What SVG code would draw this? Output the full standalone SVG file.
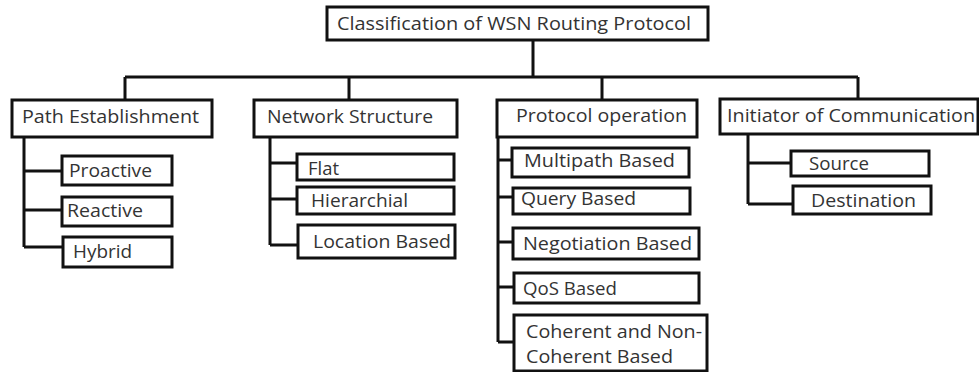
<svg xmlns="http://www.w3.org/2000/svg" width="979" height="372" viewBox="0 0 979 372">
<style>
rect{fill:#fff;stroke:#111;stroke-width:3}
text{font-family:"Open Sans","Noto Sans",sans-serif;fill:#333;font-size:19px}
text.s{font-size:18.5px}
#connectors path{fill:none;stroke:#111;stroke-width:3}
</style>
<rect x="0" y="0" width="979" height="372" style="fill:#fff;stroke:none"/>
<g id="connectors">
<path d="M533 40V77M125 77H858M125 77V100M349 77V100M602 77V100M858 77V100"/>
<path d="M24 137V247M24 171H62M24 210H62M24 247H63"/>
<path d="M270 137V245M270 163H297M270 199H297M270 245H298"/>
<path d="M498 137V342M498 160H512M498 197H513M498 242H513M498 287H514M498 342H514"/>
<path d="M748 133V204M748 163H791M748 204H793"/>
</g>
<g id="root"><rect x="327" y="7" width="381" height="33"/><text x="337" y="30" textLength="354" lengthAdjust="spacingAndGlyphs">Classification of WSN Routing Protocol</text></g>
<g id="path-establishment"><rect x="12" y="100" width="200" height="37"/><text x="22" y="123" textLength="177" lengthAdjust="spacingAndGlyphs">Path Establishment</text></g>
<g id="network-structure"><rect x="254" y="100" width="203" height="37"/><text x="267" y="123" textLength="166" lengthAdjust="spacingAndGlyphs">Network Structure</text></g>
<g id="protocol-operation"><rect x="497" y="100" width="200" height="37"/><text x="516" y="122" textLength="171" lengthAdjust="spacingAndGlyphs">Protocol operation</text></g>
<g id="initiator"><rect x="720" y="99" width="258" height="35"/><text x="727" y="122" textLength="248" lengthAdjust="spacingAndGlyphs">Initiator of Communication</text></g>
<g id="proactive"><rect x="62" y="156" width="110" height="29"/><text class="s" x="69" y="177" textLength="83" lengthAdjust="spacingAndGlyphs">Proactive</text></g>
<g id="reactive"><rect x="62" y="197" width="110" height="29"/><text class="s" x="67" y="217" textLength="76" lengthAdjust="spacingAndGlyphs">Reactive</text></g>
<g id="hybrid"><rect x="63" y="237" width="109" height="30"/><text class="s" x="73" y="258" textLength="59" lengthAdjust="spacingAndGlyphs">Hybrid</text></g>
<g id="flat"><rect x="297" y="154" width="157" height="26"/><text class="s" x="308" y="175" textLength="31" lengthAdjust="spacingAndGlyphs">Flat</text></g>
<g id="hierarchial"><rect x="297" y="187" width="157" height="27"/><text class="s" x="311" y="207" textLength="97" lengthAdjust="spacingAndGlyphs">Hierarchial</text></g>
<g id="location-based"><rect x="298" y="225" width="157" height="33"/><text class="s" x="313" y="248" textLength="138" lengthAdjust="spacingAndGlyphs">Location Based</text></g>
<g id="multipath"><rect x="512" y="148" width="177" height="29"/><text class="s" x="524" y="167" textLength="151" lengthAdjust="spacingAndGlyphs">Multipath Based</text></g>
<g id="query"><rect x="513" y="188" width="177" height="26"/><text class="s" x="521" y="205" textLength="115" lengthAdjust="spacingAndGlyphs">Query Based</text></g>
<g id="negotiation"><rect x="513" y="228" width="186" height="31"/><text class="s" x="523" y="250" textLength="169" lengthAdjust="spacingAndGlyphs">Negotiation Based</text></g>
<g id="qos"><rect x="514" y="273" width="185" height="30"/><text class="s" x="523" y="295" textLength="94" lengthAdjust="spacingAndGlyphs">QoS Based</text></g>
<g id="coherent"><rect x="514" y="315" width="193" height="56"/><text class="s" x="526" y="338" textLength="176" lengthAdjust="spacingAndGlyphs">Coherent and Non-</text><text class="s" x="526" y="363" textLength="147" lengthAdjust="spacingAndGlyphs">Coherent Based</text></g>
<g id="source"><rect x="791" y="151" width="138" height="25"/><text class="s" x="809" y="170" textLength="60" lengthAdjust="spacingAndGlyphs">Source</text></g>
<g id="destination"><rect x="793" y="186" width="138" height="28"/><text class="s" x="811" y="207" textLength="105" lengthAdjust="spacingAndGlyphs">Destination</text></g>
</svg>
